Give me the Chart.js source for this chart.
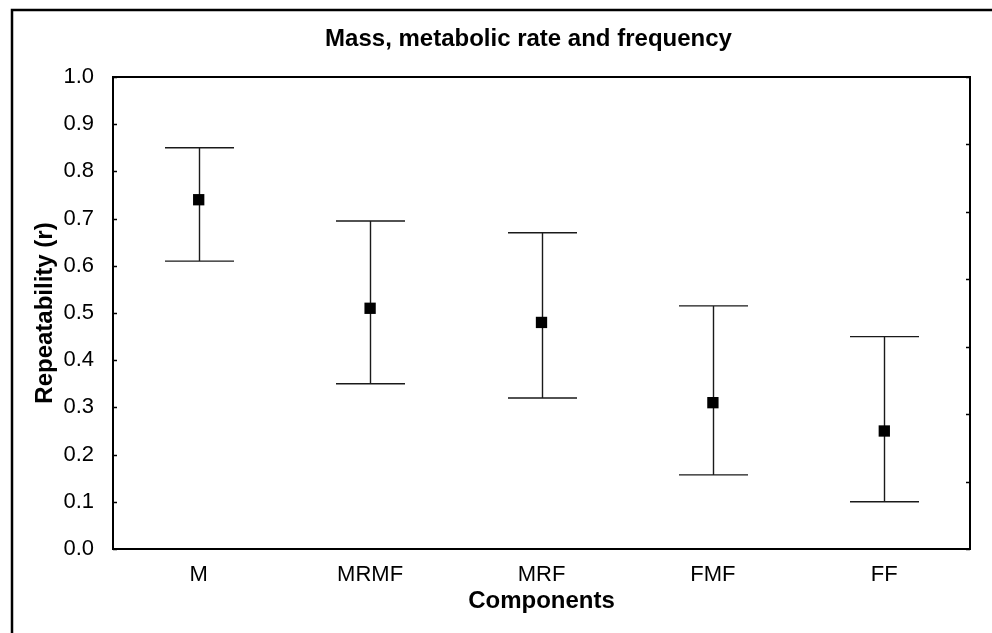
<!DOCTYPE html>
<html>
<head>
<meta charset="utf-8">
<script src="https://cdn.jsdelivr.net/npm/chart.js@4.4.0/dist/chart.umd.min.js"></script>
<style>
html, body { margin: 0; padding: 0; background: #fff; }
#wrap { width: 992px; height: 633px; }
</style>
</head>
<body>
<div id="wrap"><canvas id="repChart"></canvas></div>
<script>
// データ
const components = ['M', 'MRMF', 'MRF', 'FMF', 'FF'];
const repeatability = [0.74, 0.51, 0.48, 0.31, 0.25];
const ciLower = [0.61, 0.35, 0.32, 0.157, 0.10];
const ciUpper = [0.85, 0.695, 0.67, 0.515, 0.45];
const yTicks = [0.0, 0.1, 0.2, 0.3, 0.4, 0.5, 0.6, 0.7, 0.8, 0.9, 1.0];
const rightTicks = [0, 1, 2, 3, 4, 5, 6, 7];
const chartTitle = 'Mass, metabolic rate and frequency';

Chart.defaults.font.family = "'Liberation Sans', Arial, sans-serif";
Chart.defaults.color = '#000';

// 枠・エラーバー・内向き目盛り・タイトル
const frameAndErrorBars = {
    id: 'frameAndErrorBars',
    beforeDraw(chart) {
        const ctx = chart.ctx;
        ctx.save();
        ctx.fillStyle = '#fff';
        ctx.fillRect(0, 0, chart.width, chart.height);
        ctx.strokeStyle = '#000';
        ctx.lineWidth = 2.5;
        ctx.strokeRect(12, 10, chart.width + 40, chart.height + 40);
        ctx.restore();
    },
    beforeDatasetsDraw(chart) {
        const { ctx, chartArea: a, scales: { x, y, y2 } } = chart;
        ctx.save();

        // エラーバー
        ctx.strokeStyle = '#1a1a1a';
        ctx.lineWidth = 1.4;
        components.forEach((c, i) => {
            const px = Math.round(x.getPixelForValue(i)) + 0.5;
            const top = y.getPixelForValue(ciUpper[i]);
            const bot = y.getPixelForValue(ciLower[i]);
            ctx.beginPath();
            ctx.moveTo(px, top);
            ctx.lineTo(px, bot);
            ctx.moveTo(px - 34.5, top);
            ctx.lineTo(px + 34.5, top);
            ctx.moveTo(px - 34.5, bot);
            ctx.lineTo(px + 34.5, bot);
            ctx.stroke();
        });

        // プロット枠
        ctx.strokeStyle = '#000';
        ctx.lineWidth = 2;
        ctx.strokeRect(a.left, a.top, a.right - a.left, a.bottom - a.top);

        // 内向きの目盛り
        ctx.lineWidth = 1.5;
        ctx.beginPath();
        yTicks.forEach(v => {
            const py = Math.round(y.getPixelForValue(v)) + 0.5;
            ctx.moveTo(a.left, py);
            ctx.lineTo(a.left + 4, py);
        });
        rightTicks.forEach(v => {
            const py = Math.round(y2.getPixelForValue(v)) + 0.5;
            ctx.moveTo(a.right - 4, py);
            ctx.lineTo(a.right, py);
        });
        ctx.stroke();

        // タイトル
        ctx.fillStyle = '#000';
        ctx.font = "bold 24px 'Liberation Sans', Arial, sans-serif";
        ctx.textAlign = 'center';
        ctx.textBaseline = 'middle';
        ctx.fillText(chartTitle, (a.left + a.right) / 2 - 13, 39);
        ctx.restore();
    }
};

new Chart(document.getElementById('repChart'), {
    type: 'line',
    data: {
        labels: components,
        datasets: [{
            data: repeatability,
            showLine: false,
            pointStyle: 'rect',
            pointRadius: 8,
            pointBackgroundColor: '#000',
            pointBorderColor: '#000',
            pointBorderWidth: 0
        }]
    },
    options: {
        responsive: true,
        maintainAspectRatio: false,
        animation: false,
        layout: {
            padding: { left: 0, right: 22, top: 77, bottom: 0 }
        },
        plugins: {
            legend: { display: false },
            tooltip: { enabled: false },
            title: { display: false }
        },
        scales: {
            x: {
                type: 'category',
                offset: true,
                grid: { display: false },
                border: { display: false },
                ticks: {
                    font: { size: 22 },
                    color: '#000',
                    padding: 5,
                    maxRotation: 0,
                    autoSkip: false
                },
                title: {
                    display: true,
                    text: 'Components',
                    color: '#000',
                    font: { size: 24, weight: 'bold' },
                    padding: { top: 0, bottom: 17 }
                },
                afterFit: s => { s.height = 84; }
            },
            y: {
                position: 'left',
                min: 0,
                max: 1,
                grid: { display: false },
                border: { display: false },
                afterBuildTicks: s => { s.ticks = yTicks.map(v => ({ value: v })); },
                ticks: {
                    font: { size: 22 },
                    color: '#000',
                    padding: 11,
                    callback: v => v.toFixed(1)
                },
                title: {
                    display: true,
                    text: 'Repeatability (r)',
                    color: '#000',
                    font: { size: 24, weight: 'bold' },
                    padding: { top: 31, bottom: 0 }
                },
                afterFit: s => { s.width = 113; }
            },
            y2: {
                position: 'right',
                min: 0,
                max: 7,
                grid: { display: false },
                border: { display: false },
                afterBuildTicks: s => { s.ticks = rightTicks.map(v => ({ value: v })); },
                ticks: { display: false },
                afterFit: s => { s.width = 0; }
            }
        }
    },
    plugins: [frameAndErrorBars]
});
</script>
</body>
</html>
